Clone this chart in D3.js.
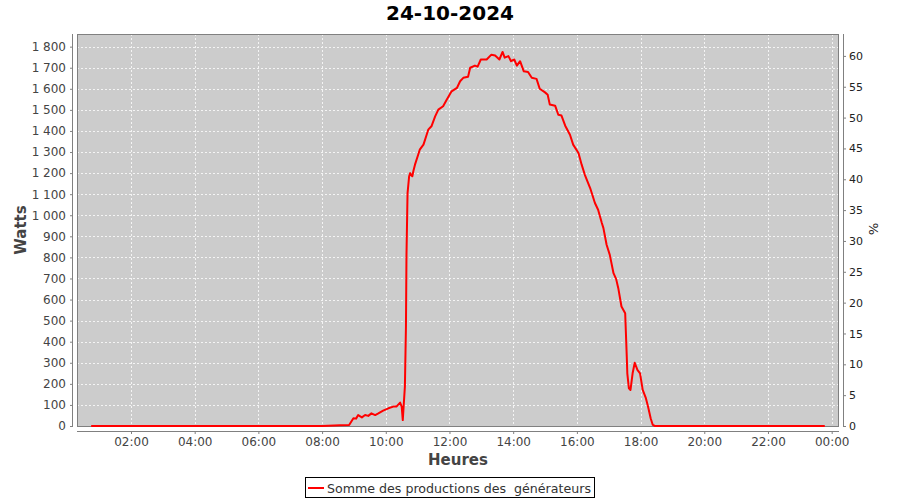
<!DOCTYPE html>
<html>
<head>
<meta charset="utf-8">
<script src="https://cdn.jsdelivr.net/npm/d3@7"></script>
<style>
  html, body { margin: 0; padding: 0; background: #ffffff; }
  svg { display: block; font-family: "DejaVu Sans", sans-serif; }
</style>
</head>
<body>
<svg id="chart" width="900" height="500"></svg>
<script>
// ---- data ----
const title = "24-10-2024";
const seriesName = "Somme des productions des  générateurs";
const times = ["00:45","02:00","04:00","06:00","08:00","08:34","08:51","08:59","09:04","09:08","09:15","09:21","09:27","09:33","09:40","09:46","09:55","10:05","10:14","10:20","10:27","10:30","10:32","10:34","10:36","10:38","10:39","10:41","10:44","10:46","10:48","10:50","10:52","10:55","11:01","11:04","11:11","11:17","11:20","11:26","11:33","11:39","11:48","11:55","12:04","12:14","12:20","12:26","12:35","12:39","12:48","12:53","12:59","13:10","13:19","13:26","13:34","13:40","13:44","13:51","13:56","14:02","14:07","14:13","14:20","14:28","14:35","14:44","14:50","15:00","15:05","15:09","15:19","15:25","15:31","15:38","15:47","15:53","16:03","16:09","16:15","16:25","16:34","16:40","16:47","16:50","16:56","17:02","17:09","17:14","17:18","17:24","17:31","17:34","17:35","17:38","17:41","17:45","17:49","17:54","17:59","18:04","18:10","18:14","18:19","18:23","18:27","20:00","22:00","23:47"];
const watts = [0,0,0,0,0,3,5,37,35,52,41,52,48,60,52,60,73,84,92,92,111,92,28,108,187,472,812,1105,1185,1200,1190,1185,1210,1240,1287,1311,1335,1382,1406,1422,1469,1501,1517,1549,1588,1604,1636,1652,1657,1700,1710,1705,1739,1739,1762,1758,1739,1775,1748,1755,1731,1739,1710,1731,1683,1680,1652,1647,1600,1583,1572,1525,1520,1477,1473,1425,1382,1335,1295,1240,1192,1129,1058,1026,963,939,860,812,725,697,654,567,535,329,250,179,171,250,300,266,250,171,132,92,37,5,0,0,0,0];
const wattTicks = [0,100,200,300,400,500,600,700,800,900,1000,1100,1200,1300,1400,1500,1600,1700,1800];
const pctTicks = [0,5,10,15,20,25,30,35,40,45,50,55,60];
const hourTickLabels = ["02:00","04:00","06:00","08:00","10:00","12:00","14:00","16:00","18:00","20:00","22:00","00:00"];
const hourTickValues = [120,240,360,480,600,720,840,960,1080,1200,1320,1440];

// ---- layout ----
const plot = {left: 77, right: 839, top: 34, bottom: 427};
const toMin = s => { const [h, m] = s.split(":").map(Number); return h * 60 + m; };
const data = times.map((t, i) => ({t: toMin(t), v: watts[i]}));

const x = d3.scaleLinear().domain([18.3, 1453.8]).range([plot.left, plot.right]);
const y = d3.scaleLinear().domain([0, 1860]).range([426, plot.top]);
const yPct = d3.scaleLinear().domain([0, 63.55]).range([426, plot.top]);

const svg = d3.select("#chart");
const fmtW = d => d3.format(",")(d).replace(/,/g, " ");

// title
svg.append("text").attr("x", 450).attr("y", 20).attr("text-anchor", "middle")
  .attr("font-size", 20).attr("font-weight", "bold").attr("fill", "#000").text(title);

// plot background
svg.append("rect").attr("x", plot.left).attr("y", plot.top)
  .attr("width", plot.right - plot.left).attr("height", plot.bottom - plot.top)
  .attr("fill", "#cccccc");

// gridlines
const grid = svg.append("g");
grid.selectAll("line.h").data(wattTicks.filter(d => d > 0)).join("line")
  .attr("x1", plot.left).attr("x2", plot.right)
  .attr("y1", d => Math.round(y(d)) + 0.5).attr("y2", d => Math.round(y(d)) + 0.5)
  .attr("stroke", "#f4f4f4").attr("stroke-width", 1).attr("stroke-dasharray", "2,2");
grid.selectAll("line.v").data(hourTickValues).join("line")
  .attr("y1", plot.top).attr("y2", plot.bottom)
  .attr("x1", d => Math.round(x(d)) + 0.5).attr("x2", d => Math.round(x(d)) + 0.5)
  .attr("stroke", "#f4f4f4").attr("stroke-width", 1).attr("stroke-dasharray", "2,2");

// plot border
svg.append("rect").attr("x", plot.left + 0.5).attr("y", plot.top + 0.5)
  .attr("width", plot.right - plot.left - 1).attr("height", plot.bottom - plot.top - 1)
  .attr("fill", "none").attr("stroke", "#808080").attr("stroke-width", 1);

// clip
svg.append("clipPath").attr("id", "clip").append("rect")
  .attr("x", plot.left + 1).attr("y", plot.top)
  .attr("width", plot.right - plot.left - 2).attr("height", plot.bottom - plot.top + 1);

// line
const line = d3.line().x(d => x(d.t)).y(d => y(d.v));
svg.append("path").datum(data).attr("clip-path", "url(#clip)")
  .attr("d", line).attr("fill", "none").attr("stroke", "#ff0000")
  .attr("stroke-width", 2).attr("stroke-linejoin", "round");

// left axis
const yAxis = d3.axisLeft(y).tickValues(wattTicks).tickFormat(fmtW).tickSize(3).tickPadding(4);
const gy = svg.append("g").attr("transform", `translate(${plot.left - 4},0)`).call(yAxis);
gy.select(".domain").attr("stroke", "#808080").attr("d", `M-0.5,${plot.top}V${plot.bottom}`);
gy.selectAll(".tick line").attr("stroke", "#808080");
gy.selectAll(".tick text").attr("font-size", 12).attr("fill", "#444").attr("font-family", "DejaVu Sans");

// right axis
const yAxisR = d3.axisRight(yPct).tickValues(pctTicks).tickSize(3).tickPadding(3);
const gr = svg.append("g").attr("transform", `translate(${plot.right + 4},0)`).call(yAxisR);
gr.select(".domain").attr("stroke", "#808080").attr("d", `M0.5,${plot.top}V${plot.bottom}`);
gr.selectAll(".tick line").attr("stroke", "#808080");
gr.selectAll(".tick text").attr("font-size", 11).attr("fill", "#222").attr("font-family", "DejaVu Sans");

// bottom axis
const xAxis = d3.axisBottom(x).tickValues(hourTickValues)
  .tickFormat((d, i) => hourTickLabels[i]).tickSize(3).tickPadding(3);
const gx = svg.append("g").attr("transform", `translate(0,${plot.bottom + 4})`).call(xAxis);
gx.select(".domain").attr("stroke", "#808080").attr("d", `M${plot.left},0.5H${plot.right}`);
gx.selectAll(".tick line").attr("stroke", "#808080");
gx.selectAll(".tick text").attr("font-size", 12).attr("fill", "#444").attr("font-family", "DejaVu Sans");

// axis titles
svg.append("text").attr("transform", "translate(26,230) rotate(-90)").attr("text-anchor", "middle")
  .attr("font-size", 15).attr("font-weight", "bold").attr("fill", "#444").text("Watts");
svg.append("text").attr("x", (plot.left + plot.right) / 2).attr("y", 465).attr("text-anchor", "middle")
  .attr("font-size", 15).attr("font-weight", "bold").attr("fill", "#444").text("Heures");
svg.append("text").attr("transform", "translate(869,229) rotate(90)").attr("text-anchor", "middle")
  .attr("font-size", 13).attr("fill", "#222").text("%");

// legend
const lg = svg.append("g");
lg.append("rect").attr("x", 305.5).attr("y", 477.5).attr("width", 289).attr("height", 20)
  .attr("fill", "#fff").attr("stroke", "#000").attr("stroke-width", 1);
lg.append("line").attr("x1", 308).attr("x2", 324).attr("y1", 488).attr("y2", 488)
  .attr("stroke", "#ff0000").attr("stroke-width", 2);
lg.append("text").attr("x", 327).attr("y", 492.5).attr("font-size", 13).attr("fill", "#333")
  .attr("textLength", 264).attr("lengthAdjust", "spacingAndGlyphs")
  .style("white-space", "pre").text(seriesName);
</script>
</body>
</html>
